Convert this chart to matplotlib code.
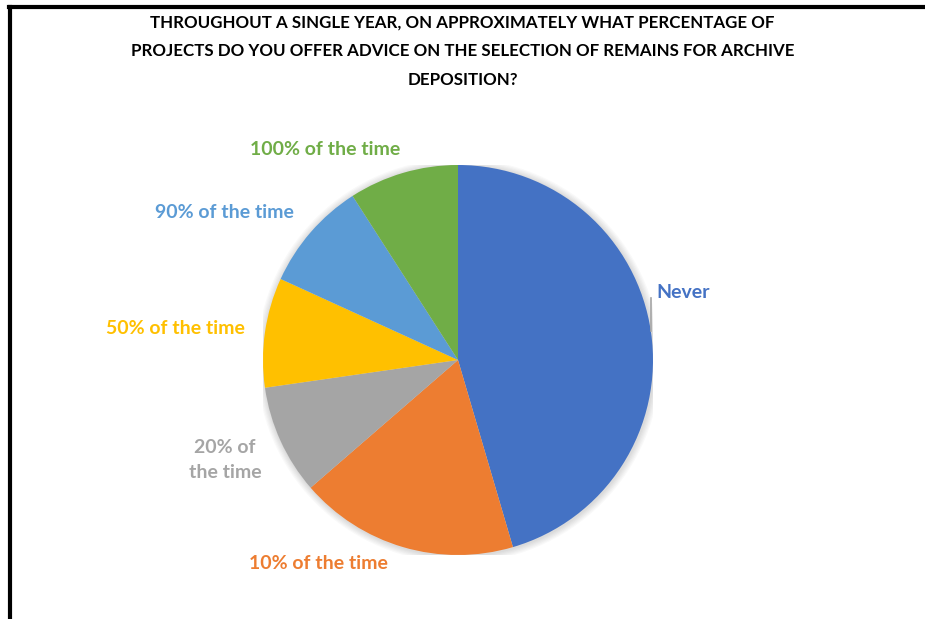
import matplotlib
matplotlib.use('Agg')
import matplotlib.pyplot as plt
from matplotlib.lines import Line2D
from matplotlib.patches import Circle

labels = ['Never', '10% of the time', '20% of\nthe time', '50% of the time',
          '90% of the time', '100% of the time']
counts = [5, 2, 1, 1, 1, 1]
colors = ['#4472C4', '#ED7D31', '#A5A5A5', '#FFC000', '#5B9BD5', '#70AD47']

# label anchors in pie units (radius = 1, centre at origin)
label_pos = [(1.015, 0.344), (-0.718, -1.046), (-1.195, -0.512),
             (-1.451, 0.159), (-1.20, 0.754), (-0.682, 1.077)]
label_ha = ['left', 'center', 'center', 'center', 'center', 'center']

title = ('THROUGHOUT A SINGLE YEAR, ON APPROXIMATELY WHAT PERCENTAGE OF\n'
         'PROJECTS DO YOU OFFER ADVICE ON THE SELECTION OF REMAINS FOR ARCHIVE\n'
         'DEPOSITION?')

fig = plt.figure(figsize=(9.25, 6.19), dpi=100)
W, H = 925, 619
cx, cy, r = 458, 360, 195
ax = fig.add_axes([(cx - r) / W, (H - cy - r) / H, 2 * r / W, 2 * r / H])

# soft shadow halo under the pie
for k in range(6):
    ax.add_patch(Circle((0.004, -0.004), 1 + 0.006 * (k + 1), color='black',
                        alpha=0.025, lw=0, zorder=0))

ax.pie(counts, colors=colors, startangle=90, counterclock=False,
       wedgeprops=dict(linewidth=0, zorder=2))
ax.set_xlim(-1, 1)
ax.set_ylim(-1, 1)
ax.set_aspect('equal')

for lab, (x, y), ha, c in zip(labels, label_pos, label_ha, colors):
    ax.text(x, y, lab, ha=ha, va='center', color=c, fontsize=14,
            fontweight='bold', family='Lato', linespacing=1.6, clip_on=False)

# leader line for the "Never" label
ax.add_line(Line2D([0.99, 0.99], [0.318, 0.149], color='#A5A5A5', lw=1.2,
                   clip_on=False))

fig.text(0.5, 1 - 51 / H, title, ha='center', va='center', fontsize=12.2,
         fontweight='bold', family='Lato', linespacing=1.98)

# border along the top and left edges
fig.add_artist(Line2D([9 / W, 1], [1 - 7 / H, 1 - 7 / H], color='black', lw=3,
                      transform=fig.transFigure))
fig.add_artist(Line2D([9.5 / W, 9.5 / W], [0, 1 - 7 / H], color='black', lw=3,
                      transform=fig.transFigure))

fig.savefig('out.png', dpi=100, facecolor='white')
